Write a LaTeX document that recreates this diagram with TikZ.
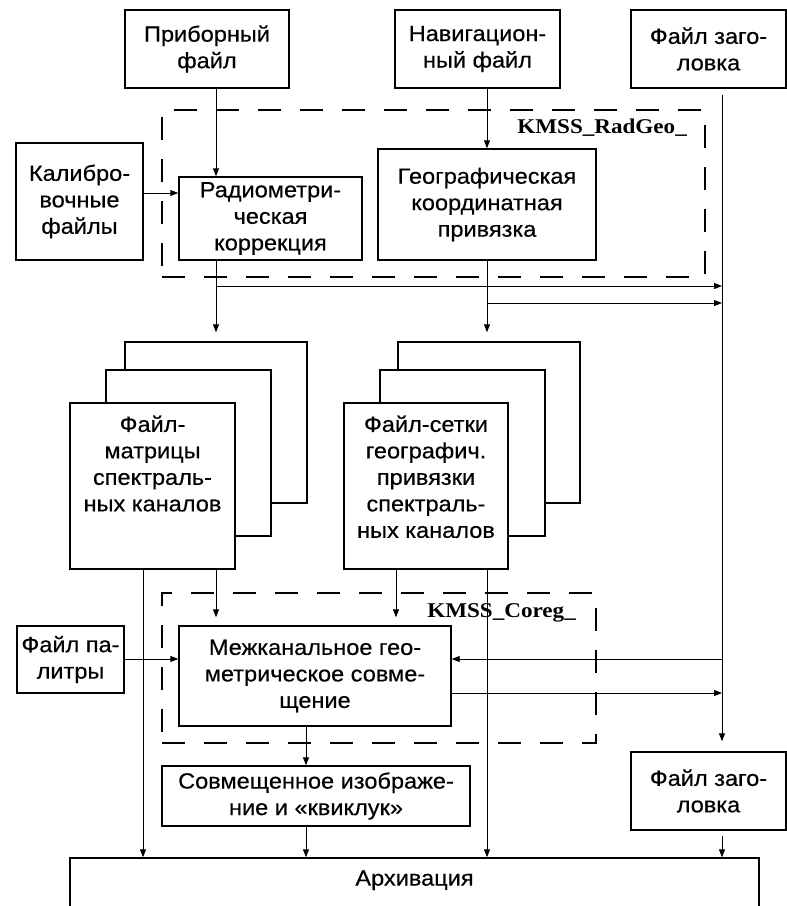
\documentclass[tikz,border=0pt]{standalone}
\usepackage{fontspec}
\setmainfont{Liberation Sans}[FakeStretch=1.07, FakeBold=0.4]
\newfontfamily\kmssfont{Liberation Serif}[FakeStretch=1.1]
\usetikzlibrary{arrows.meta}
\newcommand\dfont{\fontsize{22}{26.5}\selectfont}
\newcommand\lfont{\kmssfont\bfseries\fontsize{21}{24}\selectfont}
\begin{document}
\begin{tikzpicture}[x=1pt,y=-1pt,
  box/.style={draw, line width=1.4pt, fill=white, inner sep=0pt, align=center, font=\dfont},
  sz/.style 2 args={minimum width=#1pt, minimum height=#2pt},
  txt/.style={inner sep=0pt, align=center, font=\dfont},
  grp/.style={draw, line width=2.6pt, dash pattern=on 23pt off 19pt, inner sep=0pt},
  lbl/.style={inner sep=0pt, font=\lfont},
  ln/.style={line width=0.9pt},
  arr/.style={ln, -{Triangle[length=8pt,width=6pt]}}]

\fill[white] (0,0) rectangle (787,906);
\useasboundingbox (0,0) rectangle (787,906);
\clip (0,0) rectangle (787,906);

% column and row guides for the connectors
\coordinate (cA) at (143,0);
\coordinate (cB) at (216,0);
\coordinate (cC) at (306,0);
\coordinate (cD) at (396,0);
\coordinate (cE) at (487,0);
\coordinate (cF) at (722,0);
\coordinate (rCal) at (0,193);
\coordinate (rR1) at (0,286);
\coordinate (rR2) at (0,303);
\coordinate (rPal) at (0,659);
\coordinate (rOut) at (0,693);

% module frames
\node[grp, sz={543}{167}] (radgeo) at (433.5,193.5) {};
\node[lbl, anchor=east] (radgeolbl) at (687,128) {KMSS\_RadGeo\_};
\node[grp, sz={434}{150}] (coreg) at (379,668) {};
\node[lbl, anchor=east] (coreglbl) at (576,613) {KMSS\_Coreg\_};

% input files
\node[box, sz={164}{78}] (pribor) at (207,49) {Приборный\\файл};
\node[box, sz={165}{78}] (navig) at (477.5,49) {Навигацион-\\ный файл};
\node[box, sz={155}{78}] (headA) at (708.5,49) {Файл заго-\\ловка};
\node[box, sz={127}{117}] (calib) at (79.5,201.5) {Калибро-\\вочные\\файлы};

% radiometric and geographic processing
\node[box, sz={183}{83}] (radio) at (270.5,218.5) {Радиометри-\\ческая\\коррекция};
\node[box, sz={218}{111}] (geo) at (487,204.5) {Географическая\\координатная\\привязка};

% stacked spectral channel files
\node[box, sz={182}{161}] (lback) at (216,422.5) {};
\node[box, sz={165}{166}] (lmid) at (188.5,453) {};
\node[box, sz={165}{166}] (lfront) at (152.5,486) {};
\node[txt, anchor=north] (lfronttxt) at ([yshift=-13pt]lfront.north) {Файл-\\матрицы\\спектраль-\\ных каналов};

\node[box, sz={182}{161}] (rback) at (489,422.5) {};
\node[box, sz={165}{166}] (rmid) at (462.5,453) {};
\node[box, sz={164}{166}] (rfront) at (426,486) {};
\node[txt, anchor=north] (rfronttxt) at ([yshift=-13pt]rfront.north) {Файл-сетки\\географич.\\привязки\\спектраль-\\ных каналов};

% co-registration
\node[box, sz={107}{67}] (palette) at (70.5,659.5) {Файл па-\\литры};
\node[box, sz={272}{100}] (mezh) at (315,676) {Межканальное гео-\\метрическое совме-\\щение};
\node[box, sz={308}{60}] (sovm) at (316,796) {Совмещенное изображе-\\ние и «квиклук»};
\node[box, sz={155}{78}] (headB) at (708.5,791) {Файл заго-\\ловка};

% archive
\node[box, sz={689}{57}] (arch) at (414.5,886.5) {};
\node[txt] (archtxt) at ([yshift=-23pt]arch.north) {Архивация};

% connectors
\draw[arr] (pribor.south -| cB) -- (radio.north -| cB);
\draw[arr] (navig.south -| cE) -- (geo.north -| cE);
\draw[arr] (calib.east |- rCal) -- (radio.west |- rCal);
\draw[arr, shorten <=6pt, shorten >=10pt] (headA.south -| cF) -- (headB.north -| cF);

\draw[arr, shorten >=9pt] (radio.south -| cB) -- (lback.north -| cB);
\draw[arr] (cB |- rR1) -- (cF |- rR1);
\draw[arr, shorten >=9pt] (geo.south -| cE) -- (rback.north -| cE);
\draw[arr] (cE |- rR2) -- (cF |- rR2);

\draw[arr] (lfront.south -| cA) -- (arch.north -| cA);
\draw[arr, shorten >=8pt] (lfront.south -| cB) -- (mezh.north -| cB);
\draw[arr, shorten >=8pt] (rfront.south -| cD) -- (mezh.north -| cD);
\draw[arr] (rfront.south -| cE) -- (arch.north -| cE);

\draw[arr] (palette.east |- rPal) -- (mezh.west |- rPal);
\draw[arr] (cF |- rPal) -- (mezh.east |- rPal);
\draw[arr] (mezh.east |- rOut) -- (cF |- rOut);
\draw[arr] (mezh.south -| cC) -- (sovm.north -| cC);
\draw[arr] (sovm.south -| cC) -- (arch.north -| cC);
\draw[arr, shorten <=5pt] (headB.south -| cF) -- (arch.north -| cF);
\end{tikzpicture}
\end{document}
